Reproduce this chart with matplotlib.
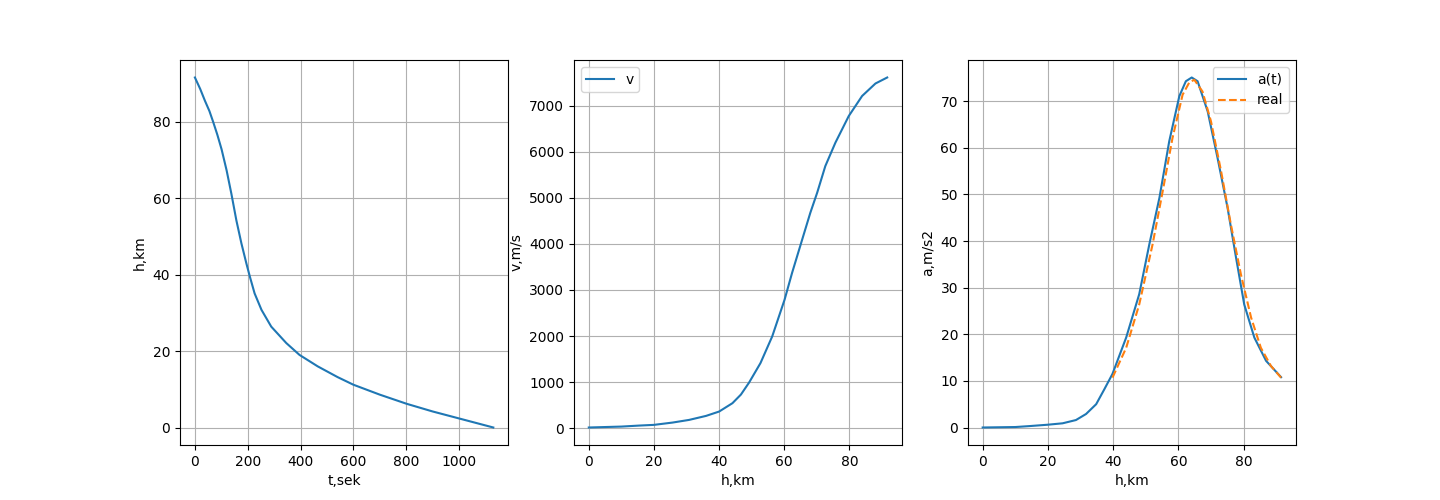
import matplotlib
matplotlib.use("Agg")
import matplotlib.pyplot as plt

# descent: altitude vs time
t_sec = [0, 20, 38, 55, 69, 85, 101, 120, 138, 157, 176, 195, 208, 226, 252, 289, 346, 396, 465, 540, 600, 700, 802, 900, 1004, 1130]
h_km = [91.6, 88.6, 85.5, 82.8, 80.0, 76.6, 72.8, 67.3, 61.2, 54.2, 48.2, 42.9, 39.5, 35.1, 30.8, 26.4, 22.1, 19.0, 16.0, 13.2, 11.2, 8.6, 6.2, 4.2, 2.3, 0.0]

# velocity vs altitude
h_v = [0, 10, 15.5, 20, 25.7, 30.8, 36.0, 40.0, 44.1, 46.7, 49.2, 52.7, 56.3, 60.1, 62.4, 65.5, 68.0, 70.1, 72.6, 75.7, 79.8, 83.9, 88.0, 91.6]
v_ms = [15, 35, 57, 72, 122, 180, 267, 361, 543, 730, 990, 1413, 1991, 2789, 3370, 4093, 4674, 5109, 5687, 6196, 6774, 7209, 7480, 7610]

# acceleration vs altitude, model
h_a = [0, 10, 14.3, 20, 24.5, 28.6, 31.7, 34.8, 37.3, 39.8, 44.0, 48.0, 51.1, 54.2, 57.2, 60.3, 62.3, 64.1, 65.9, 69.0, 72.0, 75.1, 77.7, 80.2, 83.3, 86.9, 91.5]
a_ms2 = [0, 0.1, 0.3, 0.6, 0.9, 1.6, 2.9, 5.0, 8.2, 11.5, 19.3, 28.6, 39.3, 49.3, 61.4, 71.1, 74.3, 75.1, 74.3, 67.8, 57.9, 47.1, 36.4, 26.4, 19.3, 14.3, 10.8]

# acceleration vs altitude, real
h_real = [39.8, 44.0, 48.0, 52.1, 55.2, 58.2, 61.3, 63.4, 64.9, 67.4, 70.0, 73.1, 76.1, 79.2, 82.3, 85.3, 88.4, 91.5]
a_real = [10.7, 17.1, 26.4, 39.3, 50.7, 62.1, 71.4, 74.1, 74.6, 72.1, 65.7, 55.0, 43.6, 32.8, 23.6, 17.1, 13.2, 10.7]

fig = plt.figure(figsize=(14.4, 5), dpi=100)

ax1 = fig.add_subplot(1, 3, 1)
ax1.plot(t_sec, h_km)
ax1.set_xlabel("t,sek")
ax1.set_ylabel("h,km")
ax1.grid(True)

ax2 = fig.add_subplot(1, 3, 2)
ax2.plot(h_v, v_ms, label="v")
ax2.set_xlabel("h,km")
ax2.set_ylabel("v,m/s")
ax2.legend(loc="upper left")
ax2.grid(True)

ax3 = fig.add_subplot(1, 3, 3)
ax3.plot(h_a, a_ms2, label="a(t)")
ax3.plot(h_real, a_real, "--", label="real")
ax3.set_xlabel("h,km")
ax3.set_ylabel("a,m/s2")
ax3.legend(loc="upper right")
ax3.grid(True)

plt.savefig("out.png")
